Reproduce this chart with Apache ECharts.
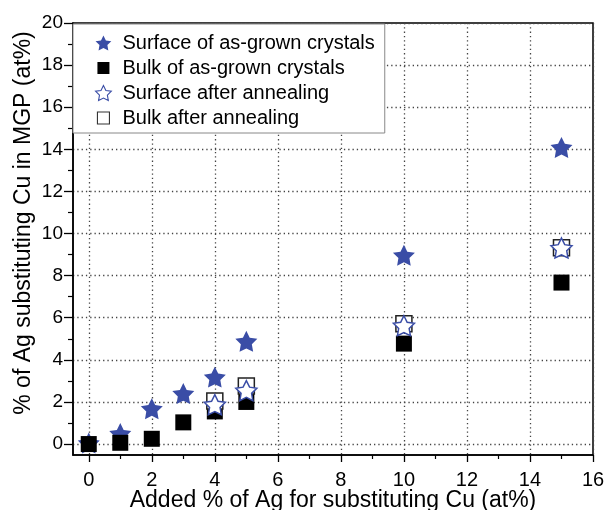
<!DOCTYPE html>
<html>
<head>
<meta charset="utf-8">
<script src="https://cdn.jsdelivr.net/npm/echarts@6/dist/echarts.min.js"></script>
<style>
  html, body { margin: 0; padding: 0; background: #fff; }
  #chart { width: 606px; height: 510px; }
</style>
</head>
<body>
<div id="chart"></div>
<script>
// Added Ag (at%) in the melt
const addedAg = [0, 1, 2, 3, 4, 5, 10, 15];
const annealedAdded = [4, 5, 10, 15];

// Ag substituting Cu in MGP (at%)
const surfaceAsGrown = [0.05, 0.5, 1.68, 2.4, 3.18, 4.88, 8.97, 14.09];
const bulkAsGrown = [0.0, 0.06, 0.25, 1.03, 1.55, 2.0, 4.77, 7.67];
const surfaceAnnealed = [1.87, 2.54, 5.62, 9.31];
const bulkAnnealed = [2.05, 2.76, 5.72, 9.33];

const xMajorTicks = [0, 2, 4, 6, 8, 10, 12, 14, 16];
const xMinorTicks = [1, 3, 5, 7, 9, 11, 13, 15];
const yMajorTicks = [0, 2, 4, 6, 8, 10, 12, 14, 16, 18, 20];
const yMinorTicks = [1, 3, 5, 7, 9, 11, 13, 15, 17, 19];

const seriesNames = [
  'Surface of as-grown crystals',
  'Bulk of as-grown crystals',
  'Surface after annealing',
  'Bulk after annealing'
];

const BLUE = '#3a4da6';
const STAR = 'path://M0,-10L2.94,-4.05L9.51,-3.09L4.76,1.55L5.88,8.09L0,5.2L-5.88,8.09L-4.76,1.55L-9.51,-3.09L-2.94,-4.05Z';
// legend square: a 12-unit square inside a 15-unit frame of empty sub-paths
const LEGEND_SQUARE = 'path://M-7.5,-7.5L-7.5,-7.5ZM-6,-6L6,-6L6,6L-6,6ZM7.5,7.5L7.5,7.5Z';
const FONT = 'Liberation Sans, Arial, sans-serif';

const pairs = (xs, ys) => xs.map((x, i) => [x, ys[i]]);

const chart = echarts.init(document.getElementById('chart'), null, { renderer: 'canvas' });

const dotted = { color: '#444', width: 1.3, type: [1.3, 3] };

const option = {
  animation: false,
  backgroundColor: '#fff',
  textStyle: { fontFamily: FONT },
  grid: {
    left: 73, right: 13, top: 23, bottom: 55,
    outerBoundsMode: 'none', containLabel: false,
    show: true, borderColor: '#000', borderWidth: 1.5, backgroundColor: 'transparent'
  },
  legend: {
    orient: 'vertical',
    left: 73, top: 24,
    padding: [9, 10, 5, 22],
    itemGap: 5,
    itemWidth: 28, itemHeight: 15,
    symbolKeepAspect: true,
    backgroundColor: '#fff',
    borderColor: '#888', borderWidth: 1, borderRadius: 0,
    textStyle: { fontSize: 20, color: '#000', fontFamily: FONT },
    data: [
      { name: seriesNames[0], icon: STAR, itemStyle: { color: BLUE } },
      { name: seriesNames[1], icon: LEGEND_SQUARE, itemStyle: { color: '#000' } },
      { name: seriesNames[2], icon: STAR, itemStyle: { color: '#fff', borderColor: BLUE, borderWidth: 1.1 } },
      { name: seriesNames[3], icon: LEGEND_SQUARE, itemStyle: { color: '#fff', borderColor: '#333', borderWidth: 1.1 } }
    ],
    z: 10
  },
  xAxis: [
    {
      type: 'value', min: -0.5, max: 16, position: 'bottom',
      name: 'Added % of Ag for substituting Cu (at%)',
      nameLocation: 'middle', nameGap: 34, nameMoveOverlap: false,
      nameTextStyle: { fontSize: 23, color: '#000', fontFamily: FONT },
      axisLine: { show: true, onZero: false, lineStyle: { color: '#000', width: 1.5 } },
      axisTick: { show: true, customValues: xMajorTicks, length: 7, inside: false, lineStyle: { color: '#000', width: 1.3 } },
      axisLabel: { customValues: xMajorTicks, fontSize: 20, color: '#000', margin: 15, fontFamily: FONT },
      splitLine: { show: true, lineStyle: dotted }
    },
    {
      type: 'value', min: -0.5, max: 16, position: 'bottom',
      axisLine: { show: false, onZero: false },
      axisTick: { show: true, customValues: xMinorTicks, length: 4, lineStyle: { color: '#000', width: 1.2 } },
      axisLabel: { show: false, customValues: xMinorTicks },
      splitLine: { show: false }
    }
  ],
  yAxis: [
    {
      type: 'value', min: -0.52, max: 20, position: 'left',
      name: '% of Ag substituting Cu in MGP (at%)',
      nameLocation: 'middle', nameGap: 38, nameMoveOverlap: false,
      nameTextStyle: { fontSize: 23, color: '#000', fontFamily: FONT, padding: [0, 0, 0, 32] },
      axisLine: { show: true, onZero: false, lineStyle: { color: '#000', width: 1.5 } },
      axisTick: { show: true, customValues: yMajorTicks, length: 9, lineStyle: { color: '#000', width: 1.3 } },
      axisLabel: { customValues: yMajorTicks, fontSize: 19, color: '#000', margin: 10, fontFamily: FONT },
      splitLine: { show: true, lineStyle: dotted }
    },
    {
      type: 'value', min: -0.52, max: 20, position: 'left',
      axisLine: { show: false, onZero: false },
      axisTick: { show: true, customValues: yMinorTicks, length: 5, lineStyle: { color: '#000', width: 1.2 } },
      axisLabel: { show: false, customValues: yMinorTicks },
      splitLine: { show: false }
    }
  ],
  series: [
    {
      name: seriesNames[0], type: 'scatter', xAxisIndex: 0, yAxisIndex: 0,
      symbol: STAR, symbolSize: 22, symbolKeepAspect: true,
      itemStyle: { color: BLUE, opacity: 1 },
      data: pairs(addedAg, surfaceAsGrown), z: 2
    },
    {
      name: seriesNames[1], type: 'scatter', xAxisIndex: 0, yAxisIndex: 0,
      symbol: 'rect', symbolSize: 16,
      itemStyle: { color: '#000', opacity: 1 },
      data: pairs(addedAg, bulkAsGrown), z: 3
    },
    {
      name: seriesNames[3], type: 'scatter', xAxisIndex: 0, yAxisIndex: 0,
      symbol: 'rect', symbolSize: 16,
      itemStyle: { color: '#fff', borderColor: '#222', borderWidth: 1.5, opacity: 1 },
      data: pairs(annealedAdded, bulkAnnealed), z: 4
    },
    {
      name: seriesNames[2], type: 'scatter', xAxisIndex: 0, yAxisIndex: 0,
      symbol: STAR, symbolSize: 21, symbolKeepAspect: true,
      itemStyle: { color: '#fff', borderColor: BLUE, borderWidth: 1.5, opacity: 1 },
      data: pairs(annealedAdded, surfaceAnnealed), z: 5
    }
  ]
};

chart.setOption(option);
</script>
</body>
</html>
